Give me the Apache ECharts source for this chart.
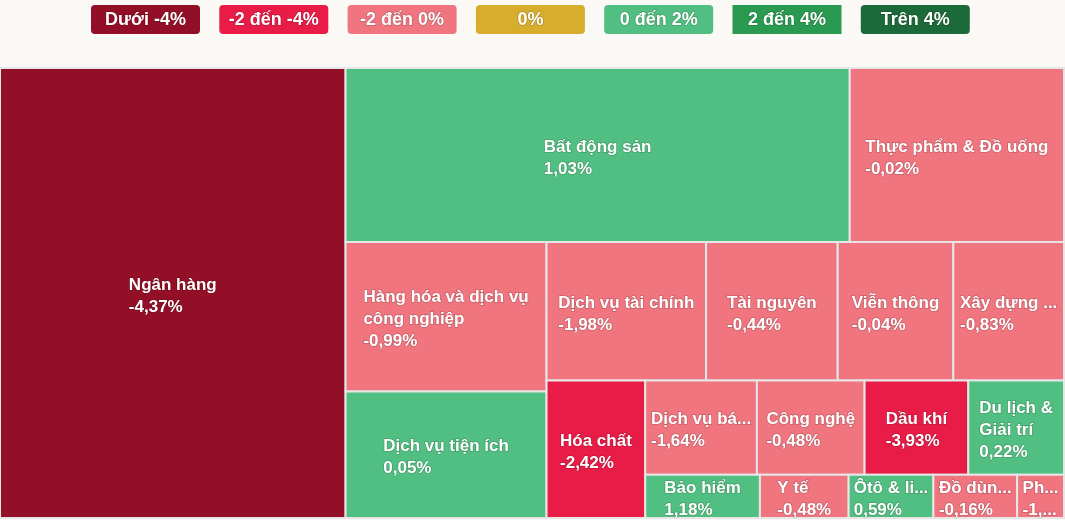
<!DOCTYPE html>
<html>
<head>
<meta charset="utf-8">
<script src="https://cdn.jsdelivr.net/npm/echarts@6/dist/echarts.min.js"></script>
<style>
html,body{margin:0;padding:0;background:#fbf9f5;}
#main{width:1065px;height:520px;}
</style>
</head>
<body>
<div id="main"></div>
<script>
// ---- data ----
const sectors = ["Ngân hàng", "Bất động sản", "Thực phẩm & Đồ uống", "Hàng hóa và dịch vụ\ncông nghiệp",
  "Dịch vụ tiện ích", "Dịch vụ tài chính", "Tài nguyên", "Viễn thông", "Xây dựng và Vật liệu",
  "Hóa chất", "Dịch vụ bán lẻ", "Công nghệ", "Dầu khí", "Du lịch &\nGiải trí", "Bảo hiểm",
  "Y tế", "Ôtô & linh kiện", "Đồ dùng cá nhân", "Phương tiện truyền thông"];
const weights = [155475, 87760, 37300, 30000, 25436, 22080, 18216, 16008, 15318,
  13563, 10528, 10152, 9776, 9024, 4945, 3827, 3655, 3612, 2021];
const changes = [-4.37, 1.03, -0.02, -0.99, 0.05, -1.98, -0.44, -0.04, -0.83,
  -2.42, -1.64, -0.48, -3.93, 0.22, 1.18, -0.48, 0.59, -0.16, -1.27];
const legendLabels = ["Dưới -4%", "-2 đến -4%", "-2 đến 0%", "0%", "0 đến 2%", "2 đến 4%", "Trên 4%"];
const legendColors = ["#930f28", "#e91c48", "#f0757f", "#d6ae2c", "#52bf82", "#2a9a50", "#1c6a3a"];

// ---- helpers ----
const FONT_FAMILY = '"Liberation Sans", Arial, Helvetica, sans-serif';
const LABEL_FONT = 'bold 17px ' + FONT_FAMILY;
const ELLIPSIS = '...';
function colorOf(v) {
  if (v < -4) return legendColors[0];
  if (v <= -2) return legendColors[1];
  if (v < 0) return legendColors[2];
  if (v === 0) return legendColors[3];
  if (v < 2) return legendColors[4];
  if (v <= 4) return legendColors[5];
  return legendColors[6];
}
function fmtPct(v) { return v.toFixed(2).replace('.', ',') + '%'; }
const measureCtx = document.createElement('canvas').getContext('2d');
function textWidth(s, font) { measureCtx.font = font; return measureCtx.measureText(s).width; }
function truncate(s, avail, font) {
  if (textWidth(s, font) <= avail) return s;
  let n = s.length;
  while (n > 0 && textWidth(s.slice(0, n) + ELLIPSIS, font) > avail) n--;
  return s.slice(0, n) + ELLIPSIS;
}

// alternating-direction squarified layout (rows alternate column / row)
function layoutTreemap(vals, W, H) {
  const total = vals.reduce((a, b) => a + b, 0);
  const k = W * H / total;
  const out = [];
  let rx = 0, ry = 0, rw = W, rh = H, dir = 0;
  let row = [], rowSum = 0;
  const ar = (a, b) => Math.max(a / b, b / a);
  function place(items, sum, flush) {
    if (dir === 0) {
      const t = flush ? rw : sum / rh;
      let y = ry;
      items.forEach(it => { const l = it.a / sum * rh; out[it.i] = [rx, y, rx + t, y + l]; y += l; });
      rx += t; rw -= t;
    } else {
      const t = flush ? rh : sum / rw;
      let x = rx;
      items.forEach(it => { const l = it.a / sum * rw; out[it.i] = [x, ry, x + l, ry + t]; x += l; });
      ry += t; rh -= t;
    }
    dir = 1 - dir;
  }
  for (let i = 0; i < vals.length; i++) {
    const a = vals[i] * k;
    if (row.length) {
      const last = row[row.length - 1].a;
      const len = dir === 0 ? rh : rw;
      const oldT = rowSum / len, newT = (rowSum + a) / len;
      if (ar(newT, last / newT) > ar(oldT, last / oldT)) {
        place(row, rowSum, false); row = []; rowSum = 0;
      }
    }
    row.push({ i: i, a: a }); rowSum += a;
  }
  if (row.length) place(row, rowSum, true);
  return out;
}

// ---- chart ----
const chart = echarts.init(document.getElementById('main'), null, { renderer: 'canvas' });
const GRID = { left: 0, top: 68, right: 1, bottom: 2 };
const PW = chart.getWidth() - GRID.left - GRID.right;
const PH = chart.getHeight() - GRID.top - GRID.bottom;
const rects = layoutTreemap(weights, PW, PH);
const seriesData = rects.map((r, i) => ({ name: sectors[i], value: [r[0], r[1], r[2], r[3], changes[i]] }));

const legendStart = 91, legendStep = 128.3, legendW = 109, legendH = 29, legendY = 5;
const legendGraphics = [];
legendLabels.forEach((t, i) => {
  const x = legendStart + i * legendStep;
  legendGraphics.push({ type: 'rect', shape: { x: x, y: legendY, width: legendW, height: legendH, r: i === 5 ? 0 : 4 },
    style: { fill: legendColors[i] } });
  legendGraphics.push({ type: 'text', x: x + legendW / 2, y: legendY + legendH / 2 + 0.5,
    style: { text: t, fill: '#ffffff', font: 'bold 18px ' + FONT_FAMILY, align: 'center', verticalAlign: 'middle',
      stroke: 'rgba(0,0,0,0.18)', lineWidth: 1.5, strokeFirst: true } });
});

chart.setOption({
  backgroundColor: '#fbf9f5',
  animation: false,
  graphic: legendGraphics,
  grid: { left: GRID.left, top: GRID.top, width: PW, height: PH },
  xAxis: { type: 'value', min: 0, max: PW, show: false },
  yAxis: { type: 'value', min: 0, max: PH, inverse: true, show: false },
  series: [{
    type: 'custom',
    coordinateSystem: 'cartesian2d',
    encode: { x: [0, 2], y: [1, 3] },
    clip: false,
    data: seriesData,
    renderItem: function (params, api) {
      const i = params.dataIndex;
      const p0 = api.coord([api.value(0), api.value(1)]);
      const p1 = api.coord([api.value(2), api.value(3)]);
      const x = p0[0], y = p0[1], w = p1[0] - p0[0], h = p1[1] - p0[1];
      const chg = api.value(4);
      const avail = w - 8;
      const lines = (sectors[i] + '\n' + fmtPct(chg)).split('\n').map(s => truncate(s, avail, LABEL_FONT));
      const blockW = Math.max.apply(null, lines.map(s => textWidth(s, LABEL_FONT)));
      return {
        type: 'group',
        children: [
          { type: 'rect', shape: { x: x, y: y, width: w, height: h },
            style: { fill: colorOf(chg), stroke: '#e6e6e6', lineWidth: 2 } },
          { type: 'text', x: x + w / 2 - blockW / 2, y: y + h / 2 + 3,
            style: { text: lines.join('\n'), fill: '#ffffff', font: LABEL_FONT, lineHeight: 22,
              align: 'left', verticalAlign: 'middle',
              stroke: 'rgba(0,0,0,0.18)', lineWidth: 1.5, strokeFirst: true } }
        ]
      };
    }
  }]
});
</script>
</body>
</html>
